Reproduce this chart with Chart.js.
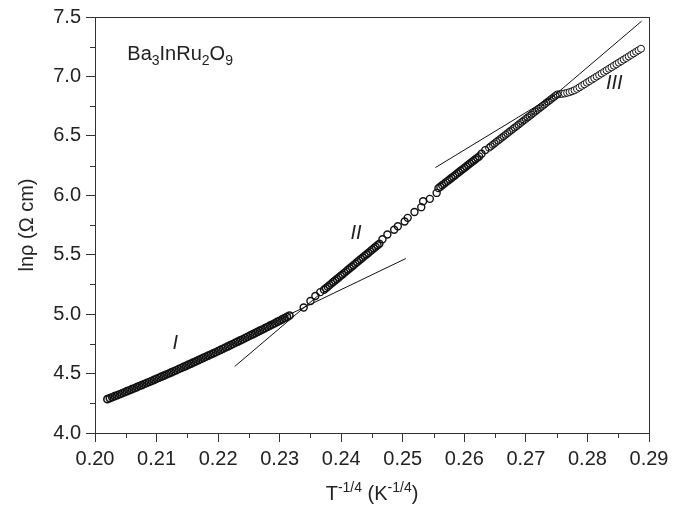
<!DOCTYPE html>
<html>
<head>
<meta charset="utf-8">
<script src="https://cdn.jsdelivr.net/npm/chart.js@4.4.0/dist/chart.umd.min.js"></script>
<style>
  html, body { margin: 0; padding: 0; background: #fff; }
</style>
</head>
<body>
<canvas id="chart" width="694" height="513"></canvas>
<script>
// T^-1/4 values and ln(rho), one pair of arrays per region
const regionIx = [0.2020,0.2024,0.2028,0.2032,0.2036,0.2040,0.2044,0.2048,0.2052,0.2056,
  0.2060,0.2064,0.2068,0.2072,0.2076,0.2080,0.2084,0.2088,0.2092,0.2096,
  0.2100,0.2104,0.2108,0.2112,0.2116,0.2120,0.2124,0.2128,0.2132,0.2136,
  0.2140,0.2144,0.2148,0.2152,0.2156,0.2160,0.2164,0.2168,0.2172,0.2176,
  0.2180,0.2184,0.2188,0.2192,0.2196,0.2200,0.2204,0.2208,0.2212,0.2216,
  0.2220,0.2224,0.2228,0.2232,0.2236,0.2240,0.2244,0.2248,0.2252,0.2256,
  0.2260,0.2264,0.2268,0.2272,0.2276,0.2280,0.2284,0.2288,0.2292,0.2296,
  0.2300,0.2304,0.2308,0.2312,0.2316];
const regionIy = [4.285,4.293,4.301,4.310,4.318,4.326,4.335,4.343,4.352,4.360,
  4.369,4.377,4.386,4.395,4.403,4.412,4.421,4.429,4.438,4.447,
  4.456,4.465,4.474,4.483,4.492,4.501,4.510,4.519,4.528,4.538,
  4.547,4.556,4.565,4.575,4.584,4.594,4.603,4.613,4.622,4.632,
  4.641,4.651,4.660,4.670,4.680,4.690,4.699,4.709,4.719,4.729,
  4.739,4.749,4.759,4.769,4.779,4.789,4.799,4.810,4.820,4.830,
  4.840,4.851,4.861,4.871,4.882,4.892,4.903,4.913,4.924,4.935,
  4.945,4.956,4.967,4.977,4.988];

const regionIIx = [0.2339,0.2350,0.2358,0.2366,
  0.2372,0.2375,0.2378,0.2381,0.2384,0.2387,0.2390,0.2393,0.2396,0.2399,
  0.2402,0.2405,0.2408,0.2411,0.2414,0.2417,0.2420,0.2423,0.2426,0.2429,
  0.2432,0.2435,0.2438,0.2441,0.2444,0.2447,0.2450,0.2453,0.2456,0.2459,0.2462,
  0.2467,0.2475,0.2486,0.2492,0.2503,0.2508,0.2519,0.2530,0.2533,0.2544,0.2555,
  0.2558,0.2561,0.2564,0.2567,0.2570,0.2573,0.2576,0.2579,0.2582,0.2585,
  0.2588,0.2591,0.2594,0.2597,0.2600,0.2603,0.2606,0.2609,0.2612,0.2615,
  0.2618,0.2621,0.2624,
  0.2628,0.2634];
const regionIIy = [5.056,5.110,5.153,5.185,
  5.205,5.218,5.231,5.244,5.257,5.270,5.283,5.296,5.309,5.322,
  5.334,5.347,5.360,5.373,5.386,5.399,5.412,5.425,5.438,5.451,
  5.464,5.477,5.490,5.502,5.515,5.528,5.541,5.554,5.567,5.580,5.592,
  5.630,5.670,5.710,5.740,5.780,5.810,5.860,5.900,5.950,5.970,6.020,
  6.060,6.072,6.084,6.096,6.109,6.121,6.133,6.145,6.157,6.169,
  6.182,6.194,6.206,6.218,6.230,6.242,6.255,6.267,6.279,6.291,
  6.303,6.315,6.327,
  6.350,6.380];

// upper part of region II, drawn as a lighter chain of circles
const regionIIupperX = [0.2640,0.2643,0.2646,0.2649,0.2652,0.2655,0.2658,0.2661,0.2664,0.2667,
  0.2670,0.2673,0.2676,0.2679,0.2682,0.2685,0.2688,0.2691,0.2694,0.2697,
  0.2700,0.2703,0.2706,0.2709,0.2712,0.2715,0.2718,0.2721,0.2724,0.2727,
  0.2730,0.2733,0.2736,0.2739,0.2742,0.2745,0.2748,0.2751];
const regionIIupperY = [6.400,6.412,6.424,6.436,6.449,6.461,6.473,6.485,6.497,6.509,
  6.522,6.534,6.546,6.558,6.570,6.582,6.594,6.607,6.619,6.631,
  6.643,6.655,6.667,6.679,6.692,6.704,6.716,6.728,6.740,6.752,
  6.764,6.777,6.789,6.801,6.813,6.825,6.837,6.849];

const regionIIIx = [0.2755,0.2759,0.2763,0.2767,0.2771,0.2775,
  0.2779,0.2783,0.2787,0.2791,0.2795,0.2799,0.2803,0.2807,0.2811,0.2815,
  0.2819,0.2823,0.2827,0.2831,0.2835,0.2839,0.2843,0.2847,0.2851,0.2855,
  0.2859,0.2863,0.2867,0.2871,0.2875,0.2879,0.2883,0.2887];
const regionIIIy = [6.851,6.853,6.857,6.862,6.868,6.875,
  6.884,6.895,6.908,6.921,6.934,6.947,6.960,6.973,6.986,6.999,
  7.012,7.025,7.038,7.051,7.064,7.077,7.090,7.103,7.116,7.129,
  7.142,7.155,7.168,7.181,7.194,7.207,7.220,7.233];

// straight fits drawn across the crossovers
const fitIIlowX = [0.2227, 0.2365];
const fitIIlowY = [4.560, 5.167];
const fitIx = [0.2280, 0.2505];
const fitIy = [4.908, 5.468];
const fitIIIx = [0.2553, 0.2752];
const fitIIIy = [6.233, 6.860];
const fitIIhighX = [0.2690, 0.2888];
const fitIIhighY = [6.592, 7.465];

// axis ticks
const xMin = 0.20, xMax = 0.29, xStep = 0.01, xMinorStep = 0.005;
const yMin = 4.0, yMax = 7.5, yStep = 0.5, yMinorStep = 0.25;

// region labels (left edge, baseline) in data units
const regionLabels = ['I', 'II', 'III'];
const regionLabelX = [0.2126, 0.2415, 0.2830];
const regionLabelY = [4.710, 5.629, 6.891];

const FONT = '"Liberation Sans", Arial, Helvetica, sans-serif';
const INK = '#222';

function pairs(xs, ys) {
    return xs.map((x, i) => ({ x: x, y: ys[i] }));
}

function pointSet(xs, ys, width, fill) {
    return {
        type: 'scatter',
        data: pairs(xs, ys),
        pointRadius: 3.5,
        pointHoverRadius: 3.5,
        pointBorderWidth: width,
        pointBorderColor: '#111',
        pointBackgroundColor: fill,
        showLine: false
    };
}

function fitLine(xs, ys) {
    return {
        type: 'line',
        data: pairs(xs, ys),
        borderColor: '#111',
        borderWidth: 1,
        pointRadius: 0,
        fill: false,
        tension: 0
    };
}

// draws text with sub/superscript runs: [text, shift] where shift is 0, 'sub' or 'sup'
function drawRuns(ctx, runs, x, y, size, align) {
    let total = 0;
    runs.forEach(r => {
        ctx.font = (r[1] ? Math.round(size * 0.68) : size) + 'px ' + FONT;
        total += ctx.measureText(r[0]).width;
    });
    let cx = align === 'center' ? x - total / 2 : x;
    runs.forEach(r => {
        let s = r[1] ? Math.round(size * 0.68) : size;
        ctx.font = s + 'px ' + FONT;
        let dy = r[1] === 'sub' ? size * 0.28 : (r[1] === 'sup' ? -size * 0.42 : 0);
        ctx.fillText(r[0], cx, y + dy);
        cx += ctx.measureText(r[0]).width;
    });
}

const decorations = {
    id: 'decorations',
    afterDraw(chart) {
        const ctx = chart.ctx;
        const a = chart.chartArea;
        const xs = chart.scales.x, ys = chart.scales.y;
        ctx.save();

        // frame
        ctx.strokeStyle = '#333';
        ctx.lineWidth = 1;
        ctx.strokeRect(Math.round(a.left) + 0.5, Math.round(a.top) + 0.5,
            Math.round(a.right - a.left), Math.round(a.bottom - a.top));

        // minor ticks
        ctx.beginPath();
        for (let v = xMin + xMinorStep; v < xMax; v += xStep) {
            let px = Math.round(xs.getPixelForValue(v)) + 0.5;
            ctx.moveTo(px, a.bottom);
            ctx.lineTo(px, a.bottom + 5);
        }
        for (let v = yMin + yMinorStep; v < yMax; v += yStep) {
            let py = Math.round(ys.getPixelForValue(v)) + 0.5;
            ctx.moveTo(a.left, py);
            ctx.lineTo(a.left - 5, py);
        }
        ctx.stroke();

        ctx.fillStyle = INK;
        ctx.textBaseline = 'alphabetic';
        ctx.textAlign = 'left';

        // compound name
        drawRuns(ctx, [['Ba', 0], ['3', 'sub'], ['InRu', 0], ['2', 'sub'], ['O', 0], ['9', 'sub']],
            xs.getPixelForValue(0.20525), ys.getPixelForValue(7.141), 20, 'left');

        // region labels
        ctx.font = 'italic 20px ' + FONT;
        regionLabels.forEach((t, i) => {
            ctx.fillText(t, xs.getPixelForValue(regionLabelX[i]), ys.getPixelForValue(regionLabelY[i]));
        });

        // x title
        drawRuns(ctx, [['T', 0], ['-1/4', 'sup'], [' (K', 0], ['-1/4', 'sup'], [')', 0]],
            (a.left + a.right) / 2, 500, 20, 'center');

        // y title
        ctx.save();
        ctx.translate(27, (a.top + a.bottom) / 2);
        ctx.rotate(-Math.PI / 2);
        ctx.font = '20px ' + FONT;
        ctx.textAlign = 'center';
        ctx.textBaseline = 'middle';
        ctx.fillText('ln\u03C1 (\u03A9 cm)', 0, 0);
        ctx.restore();

        ctx.restore();
    }
};

new Chart(document.getElementById('chart'), {
    type: 'scatter',
    data: {
        datasets: [
            fitLine(fitIIlowX, fitIIlowY),
            fitLine(fitIx, fitIy),
            fitLine(fitIIIx, fitIIIy),
            fitLine(fitIIhighX, fitIIhighY),
            pointSet(regionIx, regionIy, 1.6, 'rgba(255,255,255,0)'),
            pointSet(regionIIx, regionIIy, 1.4, 'rgba(255,255,255,0)'),
            pointSet(regionIIupperX, regionIIupperY, 1, 'rgba(255,255,255,0)'),
            pointSet(regionIIIx, regionIIIy, 1, '#fff')
        ]
    },
    options: {
        responsive: false,
        animation: false,
        events: [],
        layout: { padding: { top: 15, right: 45, left: 0, bottom: 0 } },
        plugins: { legend: { display: false }, tooltip: { enabled: false } },
        scales: {
            x: {
                type: 'linear',
                min: xMin,
                max: xMax,
                afterFit(scale) { scale.height = 80; },
                ticks: {
                    stepSize: xStep,
                    padding: 5,
                    color: INK,
                    font: { family: FONT, size: 20 },
                    maxRotation: 0,
                    callback: v => v.toFixed(2)
                },
                grid: { drawOnChartArea: false, drawTicks: true, tickLength: 9, tickColor: '#333' },
                border: { display: true, color: '#333', width: 1 }
            },
            y: {
                type: 'linear',
                min: yMin,
                max: yMax,
                afterFit(scale) { scale.width = 95; },
                ticks: {
                    stepSize: yStep,
                    padding: 5,
                    color: INK,
                    font: { family: FONT, size: 20 },
                    callback: v => v.toFixed(1)
                },
                grid: { drawOnChartArea: false, drawTicks: true, tickLength: 9, tickColor: '#333' },
                border: { display: true, color: '#333', width: 1 }
            }
        }
    },
    plugins: [decorations]
});
</script>
</body>
</html>
